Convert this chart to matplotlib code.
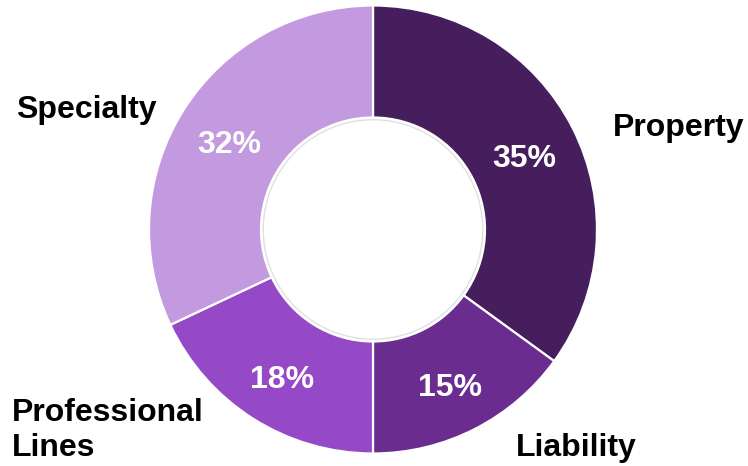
import matplotlib.pyplot as plt
from matplotlib.patches import Circle

# Data
segments = ['Property', 'Liability', 'Professional\nLines', 'Specialty']
shares = [35, 15, 18, 32]
colors = ['#461E5E', '#6A2C8E', '#9549C6', '#C39ADF']

# outer label positions (data units, radius = 1)
label_pos = [(1.366, 0.453, 'center'), (0.906, -0.975, 'center'),
             (-1.612, -0.897, 'left'), (-1.281, 0.533, 'center')]

plt.rcParams['font.family'] = ['Liberation Sans', 'DejaVu Sans']

fig = plt.figure(figsize=(7.48, 4.66), dpi=100)
ax = fig.add_axes([0, 0, 1, 1])

wedges, texts, autotexts = ax.pie(
    shares, colors=colors, startangle=90, counterclock=False,
    autopct='%d%%', pctdistance=0.76,
    wedgeprops=dict(width=0.5, edgecolor='white', linewidth=1.6),
    textprops=dict(color='white', fontsize=23, fontweight='bold'))

# nudge the percentages down a little, glyph centre vs text box centre
for t in autotexts:
    x, y = t.get_position()
    t.set_position((x, y - 0.03))

# faint shadow along the inner edge
ax.add_patch(Circle((0, 0), 0.49, fill=False, edgecolor='#e0e0e0',
                    linewidth=1.0, zorder=3))

for name, (x, y, ha) in zip(segments, label_pos):
    ax.text(x, y, name, ha=ha, va='center', fontsize=23,
            fontweight='bold', color='black', linespacing=1.25)

ax.set_aspect('equal')
ax.set_xlim(-373 / 224, (748 - 373) / 224)
ax.set_ylim((229.5 - 466) / 224, 229.5 / 224)
ax.axis('off')

fig.savefig('out.png', dpi=100)
